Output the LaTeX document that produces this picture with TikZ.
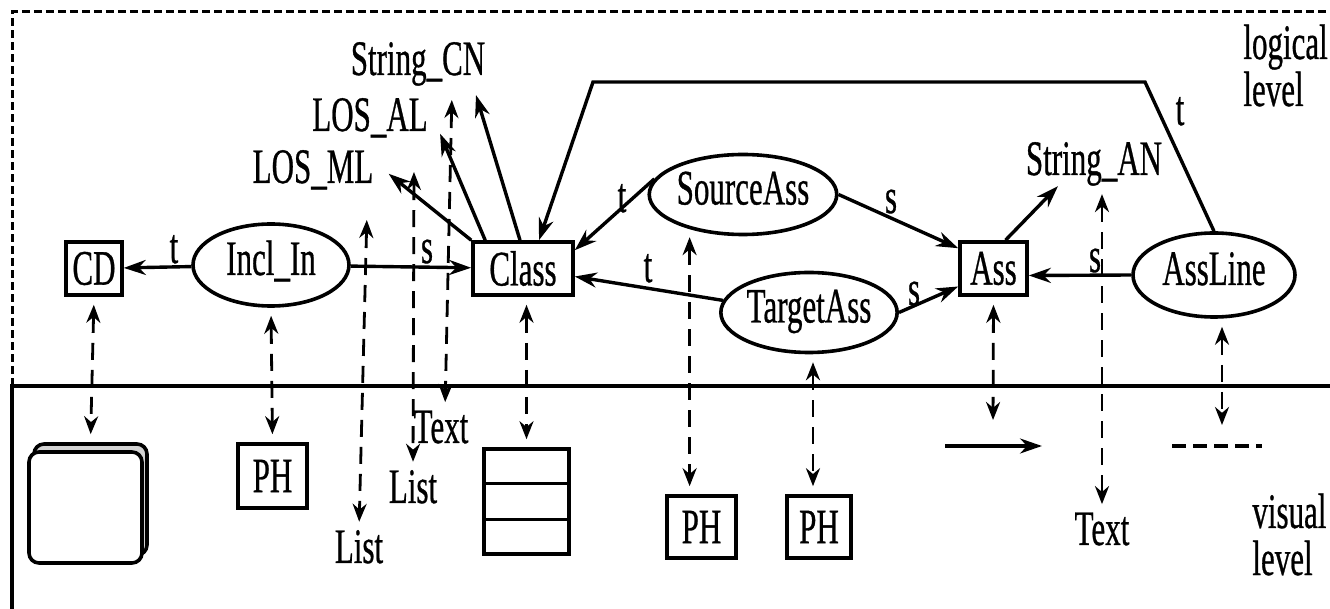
\documentclass[tikz,border=0pt]{standalone}
\usepackage{fontspec}
\setmainfont{Liberation Serif}[FakeBold=0.8]
\usetikzlibrary{arrows.meta,shapes.geometric,calc}
% tall, narrow lettering used throughout
\newcommand{\vs}[1]{\scalebox{1}[1.6]{#1}}
\begin{document}
\begin{tikzpicture}[x=0.5pt,y=-0.5pt,
  every node/.style={font=\fontsize{15.5}{18}\selectfont},
  txt/.style={inner sep=0pt, anchor=base},
  box/.style={draw, line width=1.8pt, inner sep=0pt},
  oval/.style={draw, ellipse, line width=1.8pt, inner sep=0pt, text height=16.5pt, text depth=6.5pt},
  rel/.style={line width=1.7pt, -{Stealth[length=11pt,width=7.5pt]}},
  link/.style={line width=1.4pt, dash pattern=on 8.5pt off 5pt,
    {Stealth[length=9pt,width=7pt]}-{Stealth[length=9pt,width=7pt]},
    shorten <=4pt, shorten >=4pt},
  frame/.style={line width=1.5pt, dash pattern=on 4pt off 2pt},
  sep/.style={line width=2.2pt}
]
\useasboundingbox (0,0) rectangle (1330,609);

% level frames
\draw[frame] (12,386) -- (12,12) -- (1330,12);
\draw[sep] (1330,386) -- (12,386) -- (12,609);

% ---------- logical level ----------
\node[box, minimum width=28pt, minimum height=26.5pt] (cd) at (94,268.5) {\vs{CD}};
\node[oval, minimum width=78pt, minimum height=41pt] (inclin) at (271,265) {\vs{Incl\_In}};
\node[box, minimum width=50pt, minimum height=26.5pt] (class) at (523,268.5) {\vs{Class}};
\node[oval, minimum width=78pt, minimum height=40pt] (sourceass) at (743,194.5) {\vs{SourceAss}};
\node[oval, minimum width=81pt, minimum height=40pt] (targetass) at (809,312.5) {\vs{TargetAss}};
\node[box, minimum width=33.5pt, minimum height=26.5pt] (ass) at (993.5,268.5) {\vs{Ass}};
\node[oval, minimum width=81pt, minimum height=42pt] (assline) at (1214,275) {\vs{AssLine}};

\node[txt] (stringcn) at (418,75) {\vs{String\_CN}};
\node[txt] (losal) at (370,131) {\vs{LOS\_AL}};
\node[txt] (losml) at (313,183) {\vs{LOS\_ML}};
\node[txt] (stringan) at (1094,175) {\vs{String\_AN}};

\node[txt, anchor=base west] (logical-a) at (1243,59) {\vs{logical}};
\node[txt, anchor=base west] (logical-b) at (1243,106) {\vs{level}};

% ---------- visual level ----------
\node[box, rounded corners=5pt, fill=gray!35, minimum width=56.5pt, minimum height=55.5pt] (cdback) at (90.5,499.5) {};
\node[box, rounded corners=5pt, fill=white, minimum width=56.5pt, minimum height=55.5pt] (cdview) at (85.5,507.5) {};
\node[box, minimum width=34.5pt, minimum height=32pt] (ph1) at (272.5,476) {\vs{PH}};
\node[box, minimum width=42.5pt, minimum height=52.5pt] (classview) at (526.5,501.5) {};
\draw[line width=1.8pt] ($(classview.north west)!1/3!(classview.south west)$) -- ($(classview.north east)!1/3!(classview.south east)$);
\draw[line width=1.8pt] ($(classview.north west)!2/3!(classview.south west)$) -- ($(classview.north east)!2/3!(classview.south east)$);
\node[box, minimum width=34.5pt, minimum height=31pt] (ph2) at (701.5,527) {\vs{PH}};
\node[box, minimum width=32pt, minimum height=31pt] (ph3) at (819,527) {\vs{PH}};

\node[txt] (textm) at (441,443) {\vs{Text}};
\node[txt] (textr) at (1102,545) {\vs{Text}};
\node[txt] (list1) at (359,563) {\vs{List}};
\node[txt] (list2) at (413,503) {\vs{List}};

\node[txt, anchor=base west] (visual-a) at (1252,528) {\vs{visual}};
\node[txt, anchor=base west] (visual-b) at (1252,575) {\vs{level}};

% association glyphs
\coordinate (va1) at (945,446);
\coordinate (va2) at (1042,446);
\draw[rel] (va1) -- (va2);
\coordinate (dl1) at (1172,446);
\coordinate (dl2) at (1262,446);
\draw[line width=2.2pt, dash pattern=on 7pt off 3.5pt] (dl1) -- (dl2);

% ---------- relations at the logical level ----------
\coordinate (bend1) at (1145,82);
\coordinate (bend2) at (593,82);

\draw[rel] (inclin) -- (cd);
\draw[rel] (inclin) -- (class);
\draw[rel] (class.north west) -- ([xshift=7.5pt,yshift=-2pt]losml.east);
\draw[rel] ([xshift=7pt]class.north west) -- ([xshift=6pt,yshift=-8pt]losal.east);
\draw[rel] ([xshift=-1.5pt]class.north) -- ([xshift=29pt,yshift=-4.5pt]stringcn.south);
\draw[rel] (sourceass.170) -- ([yshift=-5pt]class.north east);
\draw[rel] (targetass.172) -- ([yshift=-4pt]class.east);
\draw[rel] (sourceass.east) -- ([yshift=-4pt]ass.north west);
\draw[rel] (targetass.east) -- ([yshift=-9pt]ass.west);
\draw[rel] (assline.west) -- ([yshift=-3.5pt]ass.east);
\draw[rel] ([xshift=6pt]ass.north) -- ([xshift=-18pt]stringan.south);
\draw[rel] (assline.north) -- (bend1) -- (bend2) -- ([xshift=8pt]class.north);

\node[txt] (t1) at (174,263) {\vs{t}};
\node[txt] (s1) at (427,263) {\vs{s}};
\node[txt] (t2) at (622,212) {\vs{t}};
\node[txt] (t3) at (648,282) {\vs{t}};
\node[txt] (s2) at (891,213) {\vs{s}};
\node[txt] (s3) at (914,305) {\vs{s}};
\node[txt] (s4) at (1095,272) {\vs{s}};
\node[txt] (t4) at (1180,125) {\vs{t}};

% ---------- links between the levels ----------
\coordinate (losml-foot) at (367,212);
\coordinate (losal-foot) at (414,164);
\coordinate (stringcn-foot) at (452,92);
\coordinate (assview) at (993,428);
\coordinate (asslineview) at (1222,433);

\draw[link] (cd.south) -- (cdback.north);
\draw[link] (inclin.south) -- (ph1.north);
\draw[link] (losml-foot) -- (list1.north);
\draw[link] (losal-foot) -- (list2.north);
\draw[link] (stringcn-foot) -- ([xshift=2pt]textm.north);
\draw[link] (class.south -| classview.north) -- (classview.north);
\draw[link] (sourceass.213) -- (sourceass.213 |- ph2.north);
\draw[link] ([xshift=2pt]targetass.south) -- ([xshift=2pt]targetass.south |- ph3.north);
\draw[link] (ass.south) -- (assview);
\draw[link] ([xshift=4pt]stringan.south) -- ([xshift=4pt]stringan.south |- textr.north);
\draw[link] ([xshift=4pt]assline.south) -- (asslineview);
\end{tikzpicture}
\end{document}
